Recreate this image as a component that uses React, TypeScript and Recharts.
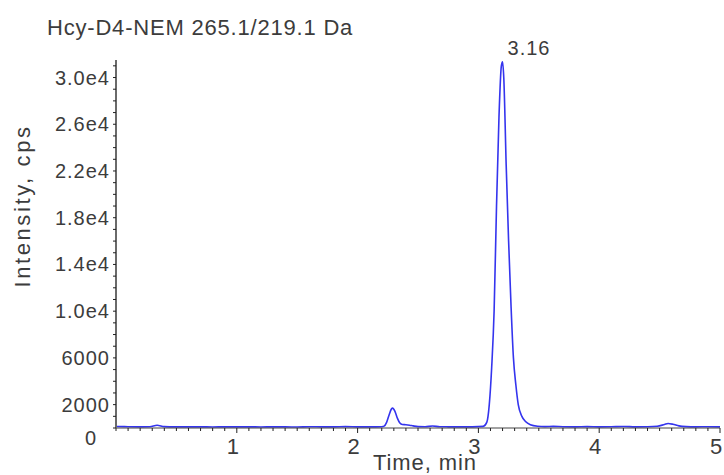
import React from 'react';
import { LineChart, Line, XAxis, YAxis, ReferenceDot } from 'recharts';

// retention time (min) and intensity (cps)
const times = [
  0.0, 0.1, 0.2, 0.28, 0.34, 0.4, 0.5, 0.6, 0.7, 0.8, 0.9, 1.0, 1.1, 1.2, 1.3, 1.4,
  1.5, 1.6, 1.7, 1.8, 1.9, 2.0, 2.1, 2.2, 2.22, 2.24, 2.26, 2.28, 2.29, 2.31, 2.33,
  2.35, 2.37, 2.4, 2.43, 2.46, 2.5, 2.56, 2.62, 2.68, 2.75, 2.85, 2.95, 3.04, 3.07,
  3.09, 3.11, 3.13, 3.15, 3.17, 3.19, 3.2, 3.21, 3.23, 3.25, 3.27, 3.29, 3.31, 3.33,
  3.36, 3.39, 3.43, 3.49, 3.55, 3.62, 3.7, 3.8, 3.9, 4.0, 4.1, 4.2, 4.3, 4.4, 4.48,
  4.54, 4.57, 4.61, 4.66, 4.72, 4.8, 4.9, 5.0,
];
const intensity = [
  130, 110, 100, 110, 230, 120, 100, 95, 100, 90, 100, 95, 100, 90, 100, 95,
  90, 110, 100, 95, 120, 100, 95, 110, 160, 480, 1100, 1620, 1700, 1400, 820,
  420, 300, 280, 240, 180, 120, 110, 170, 110, 100, 95, 100, 140, 500,
  2000, 5200, 10000, 19000, 26500, 31000, 31350, 30000, 22500, 16000, 10500, 6000, 3700, 2000,
  1000, 550, 280, 150, 120, 140, 110, 100, 120, 100, 110, 130, 100, 110, 150,
  300, 380, 320, 180, 120, 100, 110, 100,
];

const title = 'Hcy-D4-NEM 265.1/219.1 Da';
const peakLabel = { time: 3.2, value: 31350, text: '3.16' };

const xLabelTicks = [1, 2, 3, 4, 5];
const yLabelValues = [0, 2000, 6000, 10000, 14000, 18000, 22000, 26000, 30000];
const yLabelTexts = ['0', '2000', '6000', '1.0e4', '1.4e4', '1.8e4', '2.2e4', '2.6e4', '3.0e4'];

// minor tick positions: every 0.1 min and every 1000 cps
const xMinorTicks: number[] = [];
for (let i = 0; i <= 50; i++) xMinorTicks.push(i / 10);
const yMinorTicks: number[] = [];
for (let i = 0; i <= 31; i++) yMinorTicks.push(i * 1000);

const data = times.map((t, i) => ({ t, v: intensity[i] }));

const FONT = "'Liberation Sans', Arial, sans-serif";
const TEXT = '#3c3c3c';

function XTick(props: any) {
  const { x, y, payload } = props;
  const v = payload.value;
  const major = xLabelTicks.includes(v);
  return (
    <g>
      <line x1={x} x2={x} y1={y} y2={y + (major ? 5 : 3)} stroke="#222" />
      {major && (
        <text x={x - 4} y={y + 26} textAnchor="middle" fontSize={22} fill={TEXT} fontFamily={FONT}>
          {v}
        </text>
      )}
    </g>
  );
}

function YTick(props: any) {
  const { x, y, payload } = props;
  const idx = yLabelValues.indexOf(payload.value);
  const isZero = payload.value === 0;
  return (
    <g>
      <line x1={x - 3} x2={x} y1={y} y2={y} stroke="#222" />
      {idx >= 0 && (
        <text
          x={isZero ? 97 : x - 6}
          y={isZero ? y + 10 : y}
          textAnchor="end"
          dominantBaseline="central"
          fontSize={20}
          letterSpacing={1}
          fill={TEXT}
          fontFamily={FONT}
        >
          {yLabelTexts[idx]}
        </text>
      )}
    </g>
  );
}

function PeakText(props: any) {
  const { viewBox } = props;
  const cx = viewBox.x + (viewBox.width || 0) / 2;
  const cy = viewBox.y + (viewBox.height || 0) / 2;
  return (
    <text x={cx + 5} y={cy - 7} fontSize={20} letterSpacing={1} fill={TEXT} fontFamily={FONT}>
      {peakLabel.text}
    </text>
  );
}

export default function App() {
  return (
    <div style={{ position: 'absolute', left: 0, top: 0, width: 724, height: 475, background: '#fff' }}>
      <LineChart width={724} height={475} data={data} margin={{ top: 60, right: 4, bottom: 0, left: 0 }}>
        <XAxis
          dataKey="t"
          type="number"
          domain={[0, 5]}
          ticks={xMinorTicks}
          interval={0}
          tick={XTick}
          tickLine={false}
          tickSize={0}
          tickMargin={0}
          height={47}
          axisLine={{ stroke: '#444' }}
        />
        <YAxis
          type="number"
          domain={[0, 31500]}
          ticks={yMinorTicks}
          interval={0}
          tick={YTick}
          tickLine={false}
          tickSize={0}
          tickMargin={0}
          width={116}
          allowDataOverflow
          axisLine={{ stroke: '#6a6a6a', strokeWidth: 2 }}
        />
        <Line
          type="monotone"
          dataKey="v"
          stroke="#3434ee"
          strokeWidth={1.6}
          dot={false}
          isAnimationActive={false}
        />
        <ReferenceDot x={peakLabel.time} y={peakLabel.value} r={0} stroke="none" label={<PeakText />} />
      </LineChart>
      <svg width={724} height={475} style={{ position: 'absolute', left: 0, top: 0, pointerEvents: 'none' }}>
        <text x={47} y={35} fontSize={22} letterSpacing={0.8} fill={TEXT} fontFamily={FONT}>
          {title}
        </text>
        <text x={425} y={470} textAnchor="middle" fontSize={22} letterSpacing={0.9} fill={TEXT} fontFamily={FONT}>
          Time, min
        </text>
        <text
          transform="translate(30, 206) rotate(-90)"
          textAnchor="middle"
          fontSize={22}
          letterSpacing={2.6}
          fill={TEXT}
          fontFamily={FONT}
        >
          Intensity, cps
        </text>
      </svg>
    </div>
  );
}
